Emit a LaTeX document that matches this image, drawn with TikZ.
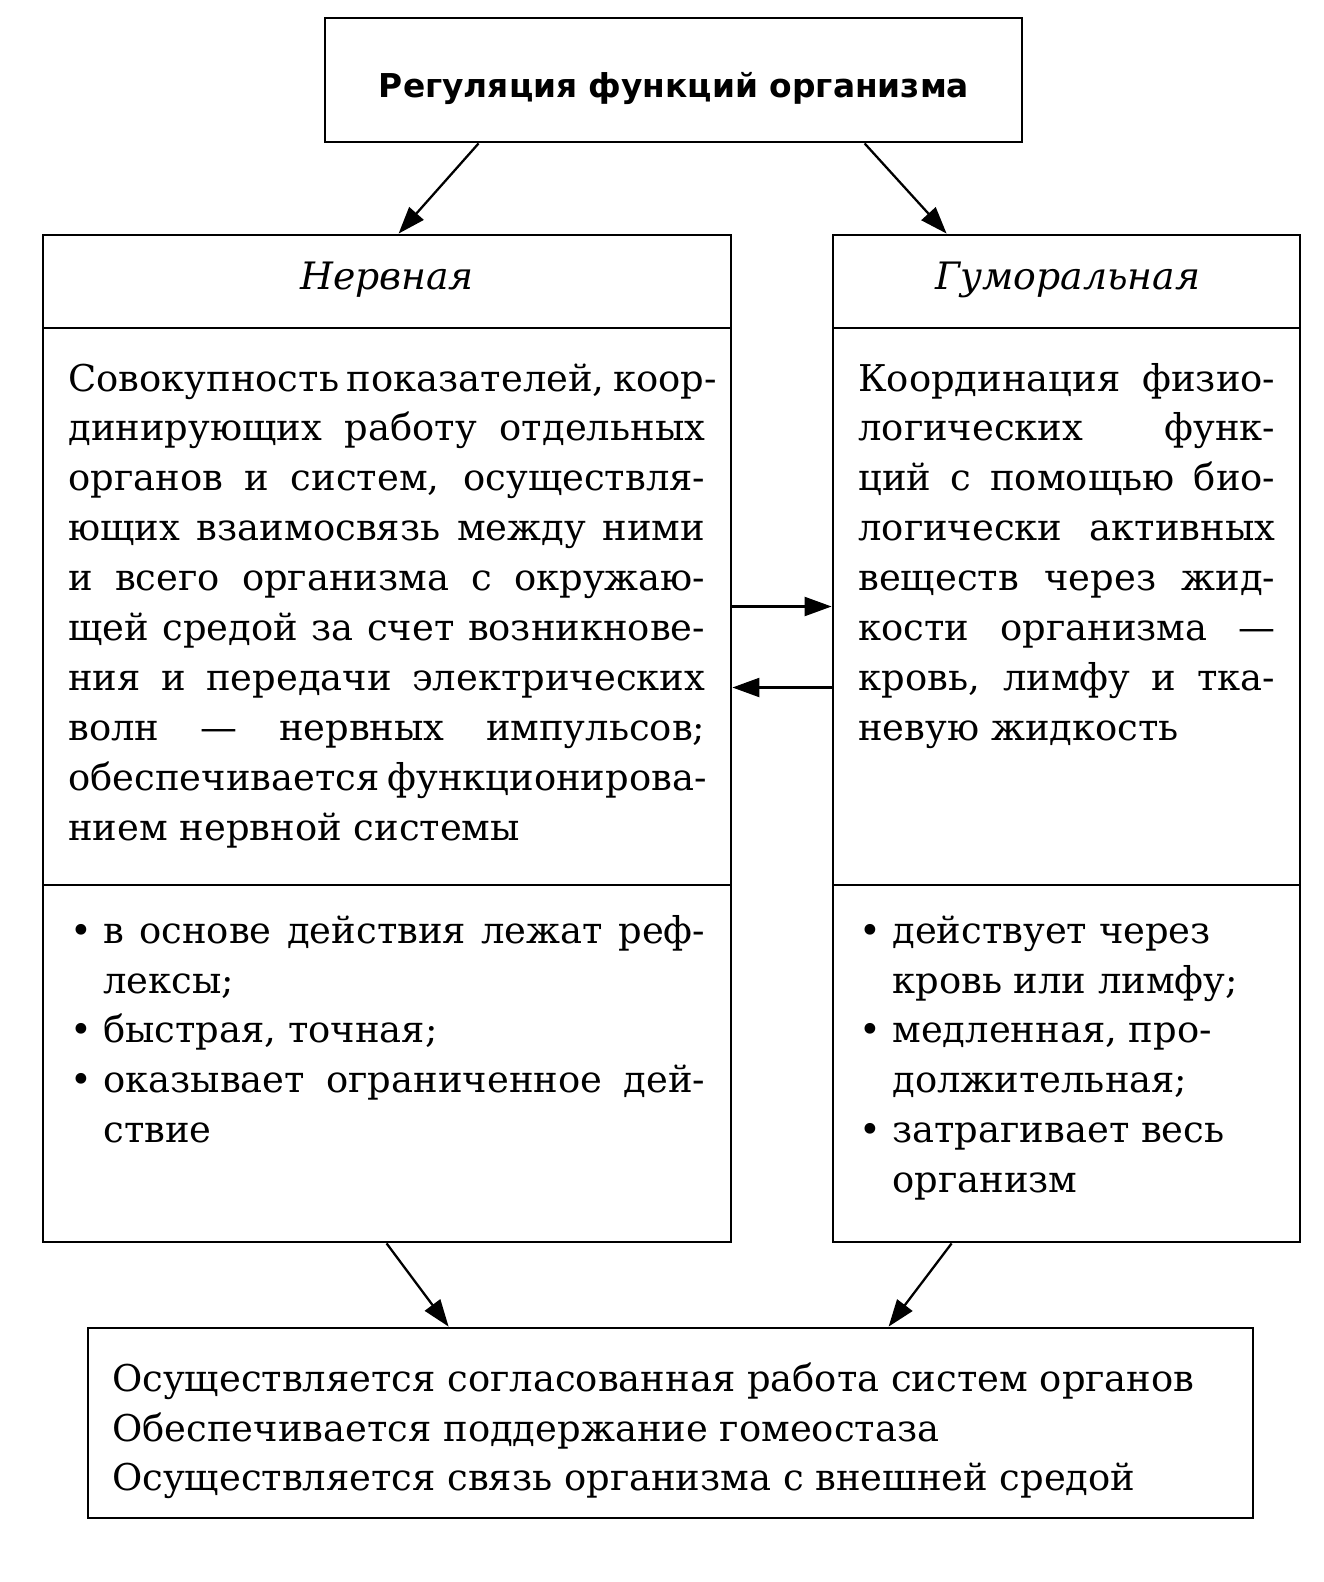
\documentclass[tikz,border=0pt]{standalone}
\usepackage{fontspec}
\setmainfont{DejaVu Serif}
\newfontfamily\titlefont{DejaVu Sans}
\usetikzlibrary{arrows.meta,calc,fit}
\newcommand\JL[1]{\hbox to\linewidth{#1}}
\newcommand\LL[1]{\hbox to\linewidth{#1\hfil}}
\newcommand\BJ[1]{\hbox to\linewidth{\llap{\hbox to 0.66cm{\textbullet\hss}}#1}}
\newcommand\BL[1]{\hbox to\linewidth{\llap{\hbox to 0.66cm{\textbullet\hss}}#1\hfil}}
\newcommand\bodyfont{\fontsize{21pt}{1cm}\selectfont}
\begin{document}
\begin{tikzpicture}[x=0.02cm,y=-0.02cm,
  frame/.style={draw, line width=1.6pt, inner sep=0pt},
  arr/.style={line width=1.3pt, -{Triangle[length=0.54cm,width=0.38cm]}},
  txt/.style={anchor=base west, inner sep=0pt},
  head/.style={anchor=base, inner sep=0pt, font=\itshape\fontsize{21.5pt}{24pt}\selectfont}]
\useasboundingbox (0,0) rectangle (1324,1582);
% boxes
\node[frame, fit={(325,18)(1022,142)}] (top) {};
\node[frame, fit={(43,235)(731,328)}] (lhead) {};
\node[frame, fit={(43,328)(731,885)}] (lbody) {};
\node[frame, fit={(43,885)(731,1242)}] (llist) {};
\node[frame, fit={(833,235)(1300,328)}] (rhead) {};
\node[frame, fit={(833,328)(1300,885)}] (rbody) {};
\node[frame, fit={(833,885)(1300,1242)}] (rlist) {};
\node[frame, fit={(88,1328)(1253,1518)}] (res) {};
% texts
\node[anchor=base, inner sep=0pt, font={\titlefont\bfseries\fontsize{18.7pt}{20pt}\selectfont}] (toptext) at (674,97) {Регуляция функций организма};
\node[head] (lheadtext) at (387,289) {Нервная};
\node[head] (rheadtext) at (1068,289) {Гуморальная};
\node[txt] (lbodytext) at (68,391) {\parbox[t]{12.74cm}{\bodyfont
\JL{Совокупность показателей, коор-}
\JL{динирующих работу отдельных}
\JL{органов и систем, осуществля-}
\JL{ющих взаимосвязь между ними}
\JL{и всего организма с окружаю-}
\JL{щей средой за счет возникнове-}
\JL{ния и передачи электрических}
\JL{волн — нервных импульсов;}
\JL{обеспечивается функционирова-}
\LL{нием нервной системы}}};
\node[txt] (rbodytext) at (858,391) {\parbox[t]{8.34cm}{\bodyfont
\JL{Координация физио-}
\JL{логических функ-}
\JL{ций с помощью био-}
\JL{логически активных}
\JL{веществ через жид-}
\JL{кости организма —}
\JL{кровь, лимфу и тка-}
\LL{невую жидкость}}};
\node[txt] (llisttext) at (103,943) {\parbox[t]{12.04cm}{\bodyfont
\BJ{в основе действия лежат реф-}
\LL{лексы;}
\BL{быстрая, точная;}
\BJ{оказывает ограниченное дей-}
\LL{ствие}}};
\node[txt] (rlisttext) at (892,943) {\parbox[t]{7.6cm}{\bodyfont
\BL{действует через}
\LL{кровь или лимфу;}
\BL{медленная, про-}
\LL{должительная;}
\BL{затрагивает весь}
\LL{организм}}};
\node[txt] (restext) at (112,1391) {\parbox[t]{22.8cm}{\bodyfont
\LL{Осуществляется согласованная работа систем органов}
\LL{Обеспечивается поддержание гомеостаза}
\LL{Осуществляется связь организма с внешней средой}}};
% connectors
\draw[arr] ($(top.south west)+(155,0)$) -- ($(lhead.north west)+(357,0)$);
\draw[arr] ($(top.south west)+(541,0)$) -- ($(rhead.north west)+(115,0)$);
\draw[arr] (lbody.east) -- (lbody.east -| rbody.west);
\draw[arr] ($(rbody.west)+(0,81)$) -- ($(lbody.east)+(0,81)$);
\draw[arr] ($(llist.south west)+(345,0)$) -- ($(res.north west)+(362,0)$);
\draw[arr] ($(rlist.south west)+(120,0)$) -- ($(res.north west)+(802,0)$);
\end{tikzpicture}
\end{document}
